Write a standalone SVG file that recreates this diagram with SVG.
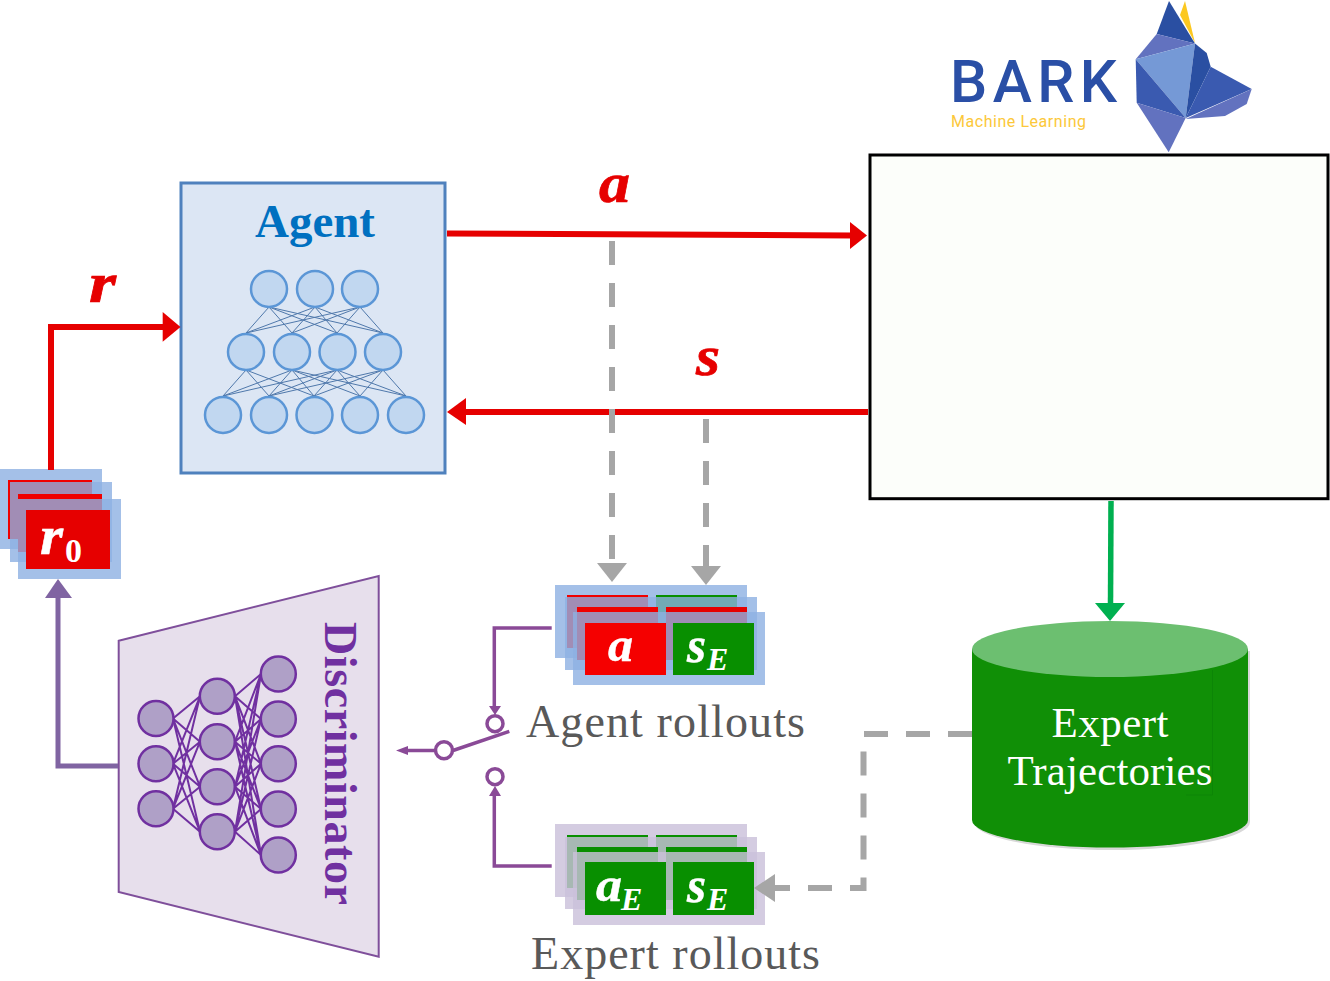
<svg xmlns="http://www.w3.org/2000/svg" width="1330" height="981" viewBox="0 0 1330 981">
<defs>
<style>
text{font-family:"Liberation Serif",serif}
.math{font-weight:bold;font-style:italic}
.lm{fill:#e60000;stroke:#e60000;stroke-width:.7;font-size:56px}
.wm{stroke:#fff;stroke-width:.5}
.lab{fill:#595959;font-size:46px}
.wh{fill:#fff}
.red{fill:none;stroke:#e60000;stroke-width:6}
.redh{fill:#e60000}
.dash{fill:none;stroke:#a6a6a6;stroke-width:6;stroke-dasharray:24 18}
.gry{fill:#a6a6a6}
.pur{fill:none;stroke:#8a4a97;stroke-width:3.5}
.purh{fill:#8a4a97}
.ring{fill:#fff;stroke:#8a4a97;stroke-width:3.5}
.an{fill:#c1d7f0;stroke:#5b96d6;stroke-width:2.5}
.dn{fill:#afa0c7;stroke:#7030a0;stroke-width:2.5}
.bl{fill:#8db0e2;opacity:.8}
.pp{fill:#cac1da;opacity:.82}
.r{fill:#f00000}
.g{fill:#088f00}
</style>
</defs>
<rect width="1330" height="981" fill="#fff"/>

<g id="bark-logo">
<polygon fill="#fcc820" points="1185,1 1180,15 1195,43"/>
<polygon fill="#2a4fa2" points="1169,1 1156.7,34 1195,43.500"/>
<polygon fill="#6272bf" points="1156.7,34 1195,43.500 1135.7,59.3"/>
<polygon fill="#7599d6" points="1135.7,59.3 1195,43.500 1185.7,118"/>
<polygon fill="#2a4fa2" points="1195,43.500 1206.7,53 1210.7,66.7 1185.7,118"/>
<polygon fill="#3a5ab0" points="1210.7,66.7 1251.7,89 1185.7,118"/>
<polygon fill="#6272bf" points="1251.7,89 1246.7,104 1225,116 1185.7,119"/>
<polygon fill="#3a5ab0" points="1135.7,59.3 1185.7,118 1136.7,102.7"/>
<polygon fill="#6272bf" points="1136.7,102.7 1185.7,118 1168.7,152.3"/>
<text x="950" y="102" font-size="59" font-weight="500" textLength="167" lengthAdjust="spacing" fill="#2a4fa6" style="font-family:Roboto,sans-serif">BARK</text>
<text x="951" y="127" font-size="16" textLength="135" fill="#fcc83a" style="font-family:Roboto,sans-serif">Machine Learning</text>
</g>

<g id="environment">
<rect x="870" y="155" width="458" height="343.700" fill="#fcfefa" stroke="#000" stroke-width="3"/>
</g>

<g id="agent">
<rect x="181" y="183" width="264" height="290" fill="#dce6f4" stroke="#4f81bd" stroke-width="3"/>
<text x="255" y="237" font-size="46" font-weight="bold" fill="#0070c0" textLength="120" lengthAdjust="spacingAndGlyphs">Agent</text>
<path fill="none" stroke="#4f78ab" stroke-width="1" d="M269 307L246 333M269 307L292 333M269 307L337 333M269 307L383 333M315 307L246 333M315 307L292 333M315 307L337 333M315 307L383 333M360 307L246 333M360 307L292 333M360 307L337 333M360 307L383 333M246 370L223 396M246 370L269 396M246 370L314 396M292 370L223 396M292 370L269 396M292 370L314 396M292 370L360 396M292 370L406 396M337 370L223 396M337 370L269 396M337 370L314 396M337 370L360 396M337 370L406 396M383 370L269 396M383 370L314 396M383 370L360 396M383 370L406 396"/>
<circle class="an" cx="269" cy="289" r="18"/><circle class="an" cx="315" cy="289" r="18"/><circle class="an" cx="360" cy="289" r="18"/>
<circle class="an" cx="246" cy="352" r="18"/><circle class="an" cx="292" cy="352" r="18"/><circle class="an" cx="337.500" cy="352" r="18"/><circle class="an" cx="383" cy="352" r="18"/>
<circle class="an" cx="223" cy="415" r="18"/><circle class="an" cx="269" cy="415" r="18"/><circle class="an" cx="314.500" cy="415" r="18"/><circle class="an" cx="360" cy="415" r="18"/><circle class="an" cx="406" cy="415" r="18"/>
</g>

<g id="reward-stack">
<rect class="bl" x="-2" y="469" width="104" height="80"/>
<rect class="r" x="8" y="480" width="84" height="59"/>
<rect class="bl" x="10" y="482" width="102" height="80"/>
<rect class="r" x="18" y="494" width="84" height="58"/>
<rect class="bl" x="18" y="499" width="103" height="80"/>
<rect fill="#e60000" x="26" y="510" width="84" height="59"/>
<text class="math wh wm" x="40" y="554" font-size="54" textLength="23" lengthAdjust="spacingAndGlyphs">r</text>
<text class="wh" x="65" y="562" font-size="34" font-weight="bold">0</text>
</g>

<g id="discriminator">
<polygon points="118.7,640.7 378.7,576 378.7,956.7 118.7,892" fill="#e7dfec" stroke="#7f4f9b" stroke-width="2"/>
<path fill="none" stroke="#7030a0" stroke-width="2" d="M173 718.5L200 696.3M173 718.5L200 741.7M173 718.5L200 786.7M173 718.5L200 831.7M173 763.7L200 696.3M173 763.7L200 741.7M173 763.7L200 786.7M173 763.7L200 831.7M173 808.7L200 696.3M173 808.7L200 741.7M173 808.7L200 786.7M173 808.7L200 831.7M235 696.3L261 674M235 696.3L261 719M235 696.3L261 763.7M235 696.3L261 809M235 696.3L261 855M235 741.7L261 674M235 741.7L261 719M235 741.7L261 763.7M235 741.7L261 809M235 741.7L261 855M235 786.7L261 674M235 786.7L261 719M235 786.7L261 763.7M235 786.7L261 809M235 786.7L261 855M235 831.7L261 674M235 831.7L261 719M235 831.7L261 763.7M235 831.7L261 809M235 831.7L261 855"/>
<circle class="dn" cx="156" cy="718.5" r="17.5"/><circle class="dn" cx="156" cy="763.7" r="17.5"/><circle class="dn" cx="156" cy="808.7" r="17.5"/>
<circle class="dn" cx="217.3" cy="696.3" r="17.5"/><circle class="dn" cx="217.3" cy="741.7" r="17.5"/><circle class="dn" cx="217.3" cy="786.7" r="17.5"/><circle class="dn" cx="217.3" cy="831.7" r="17.5"/>
<circle class="dn" cx="278.3" cy="674" r="17.5"/><circle class="dn" cx="278.3" cy="719" r="17.5"/><circle class="dn" cx="278.3" cy="763.7" r="17.5"/><circle class="dn" cx="278.3" cy="809" r="17.5"/><circle class="dn" cx="278.3" cy="855" r="17.5"/>
<text transform="translate(325,622) rotate(90)" font-size="46" font-weight="bold" fill="#7030a0" textLength="283">Discriminator</text>
</g>

<g id="agent-rollouts">
<rect class="bl" x="555" y="585" width="192" height="73"/>
<rect class="r" x="567" y="595" width="81" height="53"/><rect class="g" x="656" y="595" width="81" height="53"/>
<rect class="bl" x="565" y="597" width="192" height="73"/>
<rect class="r" x="577" y="607" width="81" height="53"/><rect style="fill:#e60000" x="666" y="607" width="81" height="53"/>
<rect class="bl" x="573" y="612" width="192" height="73"/>
<rect style="fill:#f50000" x="585" y="623" width="81" height="52"/><rect class="g" x="673" y="623" width="81" height="52"/>
<text class="math wh wm" x="608" y="661" font-size="48" textLength="25" lengthAdjust="spacingAndGlyphs">a</text>
<text class="math wh wm" x="687" y="662" font-size="50" textLength="19" lengthAdjust="spacingAndGlyphs">s</text>
<text class="math wh" x="707" y="670" font-size="32">E</text>
<text class="lab" x="526" y="737" textLength="279">Agent rollouts</text>
</g>

<g id="expert-rollouts">
<rect class="pp" x="555" y="824" width="192" height="73"/>
<rect class="g" x="567" y="835" width="81" height="53"/><rect class="g" x="656" y="835" width="81" height="53"/>
<rect class="pp" x="565" y="837" width="192" height="72"/>
<rect class="g" x="577" y="847" width="81" height="53"/><rect class="g" x="666" y="847" width="81" height="53"/>
<rect class="pp" x="573" y="852" width="192" height="73"/>
<rect class="g" x="585" y="862" width="81" height="53"/><rect class="g" x="673" y="862" width="81" height="53"/>
<text class="math wh wm" x="596" y="901" font-size="48" textLength="26" lengthAdjust="spacingAndGlyphs">a</text>
<text class="math wh" x="621" y="910" font-size="32">E</text>
<text class="math wh wm" x="687" y="902" font-size="50" textLength="19" lengthAdjust="spacingAndGlyphs">s</text>
<text class="math wh" x="707" y="910" font-size="32">E</text>
<text class="lab" x="531" y="969" textLength="289">Expert rollouts</text>
</g>

<g id="expert-trajectories">
<path fill="#d8d8d8" d="M974 651V822A138 28 0 0 0 1250 822V651Z"/>
<path fill="#108f06" d="M972 649V820A138 27.5 0 0 0 1248 820V649Z"/>
<ellipse cx="1110" cy="649" rx="138" ry="28" fill="#6cbf70"/>
<path fill="none" stroke="#0c8506" stroke-width="1" d="M1212.500 670V795H1186"/>
<text class="wh" x="1110" y="737" text-anchor="middle" font-size="43" textLength="117">Expert</text>
<text class="wh" x="1110" y="785" text-anchor="middle" font-size="43" textLength="205">Trajectories</text>
</g>

<g id="connectors">
<path class="red" d="M447 233.500L852 235.500"/>
<polygon class="redh" points="850,222 867,235.500 850,249"/>
<path class="red" d="M868 412H464"/>
<polygon class="redh" points="447,412 466,398 466,425"/>
<path class="red" d="M51 470V327H164"/>
<polygon class="redh" points="180.500,327 162.700,312 162.700,341.700"/>
<path class="dash" d="M612 241V565"/>
<polygon class="gry" points="597,563 627,563 612,582"/>
<path class="dash" d="M706 419V568"/>
<polygon class="gry" points="691,566 721,566 706,585"/>
<path class="dash" d="M972 734H863.500V888H772"/>
<polygon class="gry" points="754,888 775,874 775,902"/>
<path fill="none" stroke="#00b050" stroke-width="5.500" d="M1111 501L1110.500 605"/>
<polygon fill="#00b050" points="1095,603 1125,603 1110,621"/>
<path fill="none" stroke="#8064a2" stroke-width="5" d="M118 766H58V596"/>
<polygon fill="#8064a2" points="58,579 72,598 45,598"/>
<path class="pur" d="M551.700 628H494.300V707"/>
<polygon class="purh" points="489,706 501,706 495,715"/>
<path class="pur" d="M551.700 866H494.300V794"/>
<polygon class="purh" points="489,796 501,796 495,786"/>
<path class="pur" d="M453 750.500L509.300 731.300"/>
<path class="pur" d="M436 750.500H405"/>
<polygon class="purh" points="396,750.500 408,746 408,755"/>
<circle class="ring" cx="495" cy="723.700" r="8"/>
<circle class="ring" cx="495" cy="776.700" r="8"/>
<circle class="ring" cx="444" cy="750.300" r="8.500"/>
</g>

<g id="edge-labels">
<text class="math lm" x="599" y="201.500" textLength="31" lengthAdjust="spacingAndGlyphs">a</text>
<text class="math lm" x="89" y="301.500" textLength="27" lengthAdjust="spacingAndGlyphs">r</text>
<text class="math lm" x="696" y="375" textLength="24" lengthAdjust="spacingAndGlyphs">s</text>
</g>
</svg>
